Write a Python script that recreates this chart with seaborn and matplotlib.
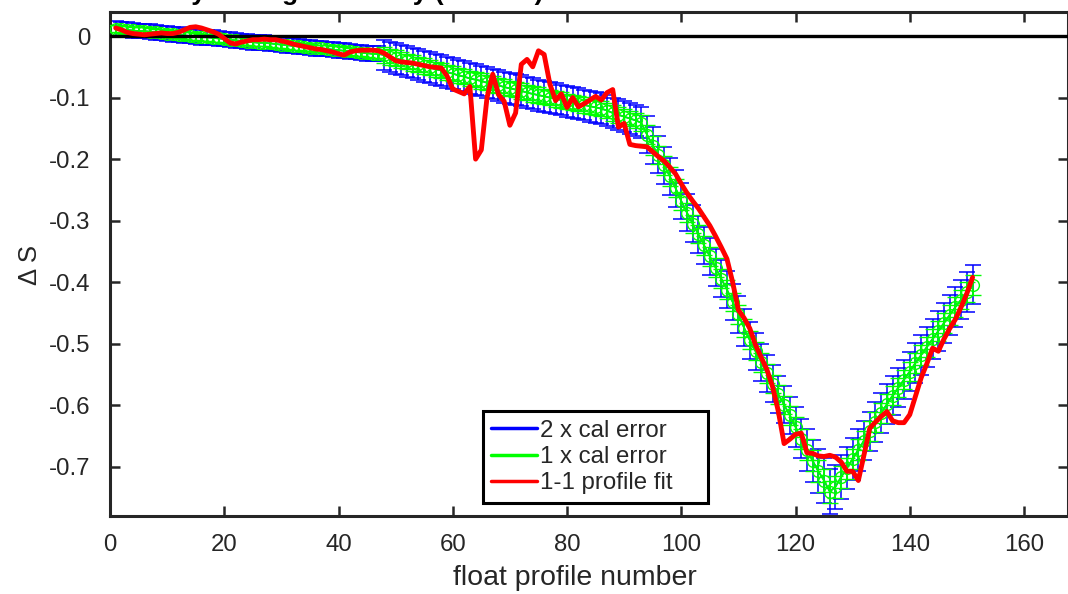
import numpy as np
import matplotlib
matplotlib.use("Agg")
import matplotlib.pyplot as plt
import seaborn as sns
import pandas as pd
from matplotlib.lines import Line2D

# ---------------- data ----------------
profile_no = list(range(1, 152))

fit_correction = [
    0.012, 0.011, 0.010, 0.009, 0.008, 0.008, 0.007, 0.006, 0.005, 0.004,
    0.003, 0.002, 0.001, 0.000, -0.001, -0.002, -0.002, -0.003, -0.004, -0.005,
    -0.006, -0.007, -0.008, -0.009, -0.010, -0.011, -0.011, -0.012, -0.013, -0.014,
    -0.015, -0.016, -0.017, -0.018, -0.019, -0.020, -0.020, -0.021, -0.022, -0.023,
    -0.024, -0.025, -0.026, -0.027, -0.028, -0.029, -0.029,
    -0.031, -0.034, -0.036, -0.039, -0.041, -0.044, -0.046, -0.049, -0.051, -0.054,
    -0.056, -0.059, -0.061, -0.064, -0.066, -0.069, -0.071, -0.073, -0.076, -0.078,
    -0.080, -0.083, -0.085, -0.087, -0.089, -0.092, -0.094, -0.096, -0.098, -0.100,
    -0.102, -0.104, -0.106, -0.108, -0.110, -0.112, -0.114, -0.116, -0.118, -0.121,
    -0.125, -0.128, -0.131, -0.134, -0.137, -0.141,
    -0.160, -0.178, -0.193, -0.210, -0.228, -0.247, -0.268, -0.287, -0.305, -0.322,
    -0.340, -0.358, -0.376, -0.394, -0.412, -0.432, -0.452, -0.474, -0.494, -0.512,
    -0.530, -0.548, -0.565, -0.582, -0.599, -0.616, -0.635, -0.654, -0.672, -0.690,
    -0.707, -0.722, -0.740,
    -0.732, -0.716, -0.702, -0.687, -0.672, -0.657, -0.642, -0.627, -0.612, -0.598,
    -0.584, -0.571, -0.558, -0.545, -0.531, -0.518, -0.505, -0.492, -0.479, -0.466,
    -0.453, -0.440, -0.428, -0.416, -0.404,
]

cal_error = [
    0.006, 0.006, 0.006, 0.006, 0.006, 0.006, 0.006, 0.006, 0.006, 0.006,
    0.006, 0.006, 0.006, 0.006, 0.006, 0.006, 0.006, 0.006, 0.006, 0.006,
    0.006, 0.006, 0.006, 0.006, 0.006, 0.006, 0.006, 0.006, 0.006, 0.006,
    0.006, 0.006, 0.006, 0.006, 0.006, 0.006, 0.006, 0.006, 0.006, 0.006,
    0.006, 0.006, 0.006, 0.006, 0.006, 0.006, 0.006,
    0.0125, 0.0125, 0.0125, 0.0125, 0.0125, 0.0125, 0.0125, 0.0125, 0.0125, 0.0125,
    0.0125, 0.0125, 0.0125, 0.0125, 0.0125, 0.0125, 0.0125, 0.0125, 0.0125, 0.0125,
    0.0125, 0.0125, 0.0125, 0.0125, 0.0125, 0.0125, 0.0125, 0.0125, 0.0125, 0.0125,
    0.0125, 0.0125, 0.0125, 0.0125, 0.0125, 0.0125, 0.0125, 0.0125, 0.0125, 0.0125,
    0.0125, 0.0125, 0.0125, 0.0125, 0.0125, 0.0125,
    0.015, 0.015, 0.015, 0.015, 0.015, 0.015, 0.015, 0.015, 0.015, 0.015,
    0.015, 0.015, 0.015, 0.015, 0.015, 0.015, 0.015, 0.015, 0.015, 0.015,
    0.015, 0.015, 0.015, 0.015, 0.015, 0.015, 0.016, 0.016, 0.017, 0.017,
    0.018, 0.018, 0.018,
    0.018, 0.018, 0.017, 0.017, 0.017, 0.016, 0.016, 0.016, 0.016, 0.016,
    0.016, 0.016, 0.016, 0.016, 0.016, 0.016, 0.016, 0.016, 0.016, 0.016,
    0.016, 0.016, 0.016, 0.016, 0.016,
]

profile_fit_1_1 = [
    0.013, 0.010, 0.006, 0.004, 0.003, 0.002, 0.003, 0.004, 0.005, 0.004,
    0.004, 0.006, 0.010, 0.014, 0.015, 0.013, 0.010, 0.007, 0.003, -0.004,
    -0.011, -0.013, -0.010, -0.008, -0.006, -0.006, -0.005, -0.006, -0.006, -0.008,
    -0.010, -0.013, -0.015, -0.017, -0.019, -0.021, -0.022, -0.024, -0.026, -0.029,
    -0.031, -0.026, -0.024, -0.023, -0.023, -0.023, -0.024, -0.028, -0.034, -0.040,
    -0.042, -0.043, -0.044, -0.046, -0.048, -0.050, -0.051, -0.052, -0.065, -0.086,
    -0.090, -0.094, -0.082, -0.200, -0.185, -0.100, -0.062, -0.095, -0.106, -0.145,
    -0.125, -0.046, -0.038, -0.050, -0.024, -0.030, -0.078, -0.105, -0.094, -0.116,
    -0.100, -0.115, -0.110, -0.104, -0.098, -0.104, -0.092, -0.087, -0.148, -0.142,
    -0.176, -0.178, -0.179, -0.180, -0.188, -0.196, -0.203, -0.213, -0.224, -0.240,
    -0.255, -0.268, -0.280, -0.294, -0.308, -0.325, -0.343, -0.362, -0.400, -0.445,
    -0.458, -0.475, -0.502, -0.522, -0.542, -0.570, -0.610, -0.662, -0.655, -0.647,
    -0.645, -0.677, -0.678, -0.682, -0.683, -0.681, -0.684, -0.692, -0.707, -0.707,
    -0.722, -0.680, -0.637, -0.627, -0.618, -0.610, -0.625, -0.628, -0.628, -0.615,
    -0.585, -0.555, -0.532, -0.507, -0.512, -0.492, -0.475, -0.460, -0.440, -0.418,
    -0.392,
]

x_ticks = [0, 20, 40, 60, 80, 100, 120, 140, 160]
y_ticks = [0, -0.1, -0.2, -0.3, -0.4, -0.5, -0.6, -0.7]
y_tick_labels = ["0", "-0.1", "-0.2", "-0.3", "-0.4", "-0.5", "-0.6", "-0.7"]
legend_labels = ["2 x cal error", "1 x cal error", "1-1 profile fit"]
title_text = "Vertically averaged salinity (PSS-78) additive correction \u0394S with errors"
x_label = "float profile number"
y_label = "\u0394 S"

# ---------------- plot ----------------
sns.set_theme(style="white")
plt.rcParams["font.family"] = ["Liberation Sans", "DejaVu Sans"]

df = pd.DataFrame({"profile": profile_no, "fit": fit_correction,
                   "err": cal_error, "fit11": profile_fit_1_1})

fig = plt.figure(figsize=(10.68, 5.94), dpi=100)
ax = fig.add_axes([110 / 1068, 78 / 594, 958 / 1068, 504 / 594])

dark = "#262626"
blue = (0, 0, 1)
green = (0, 1, 0)
red = (1, 0, 0)

ax.errorbar(df["profile"], df["fit"], yerr=2 * df["err"], color=blue,
            lw=1.1, elinewidth=1.1, capsize=5.5, capthick=1.1, zorder=2)
ax.errorbar(df["profile"], df["fit"], yerr=df["err"], color=green,
            lw=1.3, elinewidth=1.1, capsize=5.5, capthick=1.1,
            marker="o", mfc="none", mec=green, ms=8.5, mew=1.0, zorder=3)
ax.axhline(0, color="black", lw=2.4, zorder=4)
sns.lineplot(data=df, x="profile", y="fit11", color=red, lw=3.5, ax=ax,
             zorder=5, legend=False)

ax.set_xlim(0, 167.7)
ax.set_ylim(-0.7796, 0.039)
ax.set_xticks(x_ticks)
ax.set_yticks(y_ticks)
ax.set_yticklabels(y_tick_labels)
ax.set_xlabel(x_label, fontsize=20.5, color=dark)
ax.set_ylabel(y_label, fontsize=18.5, color=dark)
ax.xaxis.set_label_coords((575 - 110) / 958, -(578 - 516) / 504)
ax.yaxis.set_label_coords(-(110 - 30) / 958, (516 - 265) / 504)
ax.xaxis.label.set_va("center")
ax.yaxis.label.set_va("center")

ax.tick_params(axis="both", direction="in", length=7, width=1.8,
               labelsize=17.3, colors=dark, top=True, right=True,
               bottom=True, left=True)
ax.tick_params(axis="y", pad=14)
ax.tick_params(axis="x", pad=13)
for sp in ax.spines.values():
    sp.set_color(dark)
    sp.set_linewidth(2.2)
    sp.set_visible(True)

handles = [Line2D([0], [0], color=blue, lw=2.5),
           Line2D([0], [0], color=green, lw=2.5),
           Line2D([0], [0], color=red, lw=2.5)]
padded_labels = [lab + "    " for lab in legend_labels]
leg = ax.legend(handles, padded_labels, loc="lower left",
                bbox_to_anchor=(0.389, 0.026), fontsize=17.3, frameon=True,
                fancybox=False, edgecolor="black", framealpha=1,
                handlelength=1.9, handletextpad=0.15, labelspacing=0.18,
                borderpad=0.35, borderaxespad=0)
leg.get_frame().set_linewidth(2.2)
for t in leg.get_texts():
    t.set_color(dark)

fig.text(90 / 1068, 1.0, title_text, ha="left", va="baseline",
         fontsize=19, fontweight="bold", color="black")

fig.savefig("out.png", dpi=100)
